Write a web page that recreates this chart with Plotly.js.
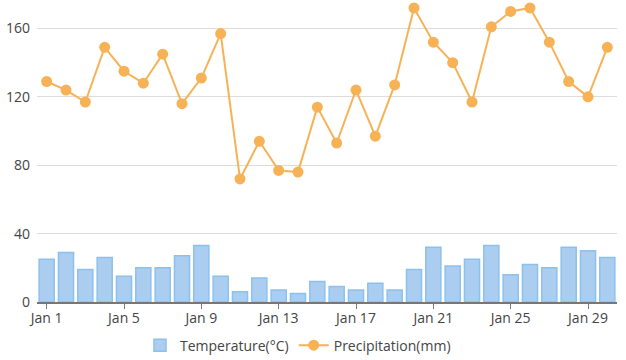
<!DOCTYPE html>
<html>
<head>
<meta charset="utf-8">
<script src="https://cdn.plot.ly/plotly-3.0.1.min.js"></script>
<style>html,body{margin:0;padding:0;background:#fff;}#chart{width:626px;height:360px;}</style>
</head>
<body>
<div id="chart"></div>
<script>
const days = ["Jan 1","Jan 2","Jan 3","Jan 4","Jan 5","Jan 6","Jan 7","Jan 8","Jan 9","Jan 10",
  "Jan 11","Jan 12","Jan 13","Jan 14","Jan 15","Jan 16","Jan 17","Jan 18","Jan 19","Jan 20",
  "Jan 21","Jan 22","Jan 23","Jan 24","Jan 25","Jan 26","Jan 27","Jan 28","Jan 29","Jan 30"];
const temperature = [25,29,19,26,15,20,20,27,33,15,6,14,7,5,12,9,7,11,7,19,32,21,25,33,16,22,20,32,30,26];
const precipitation = [129,124,117,149,135,128,145,116,131,157,72,94,77,76,114,93,124,97,127,172,152,140,117,161,170,172,152,129,120,149];
const xTicks = ["Jan 1","Jan 5","Jan 9","Jan 13","Jan 17","Jan 21","Jan 25","Jan 29"];
const yTicks = [0,40,80,120,160];

const traces = [
  {type:'bar', name:'Temperature(°C)', x:days, y:temperature,
   marker:{color:'#abcdf0', line:{color:'#8ec0ec', width:1.5}}},
  {type:'scatter', mode:'lines+markers', name:'Precipitation(mm)', x:days, y:precipitation,
   line:{color:'#f7b256', width:2}, marker:{color:'#f7b256', size:11}, cliponaxis:false}
];
const layout = {
  width:626, height:360,
  margin:{l:37, r:9, t:2, b:58, autoexpand:false},
  paper_bgcolor:'#fff', plot_bgcolor:'#fff',
  font:{family:'"Open Sans", "Noto Sans", sans-serif', size:14, color:'#444'},
  bargap:0.22,
  showlegend:true,
  legend:{orientation:'h', x:0.45, xanchor:'center', yref:'container', y:0.04, yanchor:'middle',
    font:{size:14, color:'#444'}, itemwidth:30, traceorder:'normal'},
  xaxis:{type:'category', range:[-0.5,29.5], tickmode:'array', tickvals:xTicks, ticktext:xTicks,
    showgrid:false, showline:true, linecolor:'#777', linewidth:2, ticks:'outside', ticklen:5, tickcolor:'#777',
    tickfont:{size:14, color:'#444'}, ticklabelstandoff:-3, zeroline:false, automargin:false},
  yaxis:{range:[0,175.5], tickmode:'array', tickvals:yTicks, showgrid:true, gridcolor:'#dcdcdc', gridwidth:1,
    zeroline:false, showline:false, ticks:'', tickfont:{size:14, color:'#444'}, ticklabelstandoff:6, automargin:false}
};
Plotly.newPlot('chart', traces, layout, {displayModeBar:false, staticPlot:true});
</script>
</body>
</html>
